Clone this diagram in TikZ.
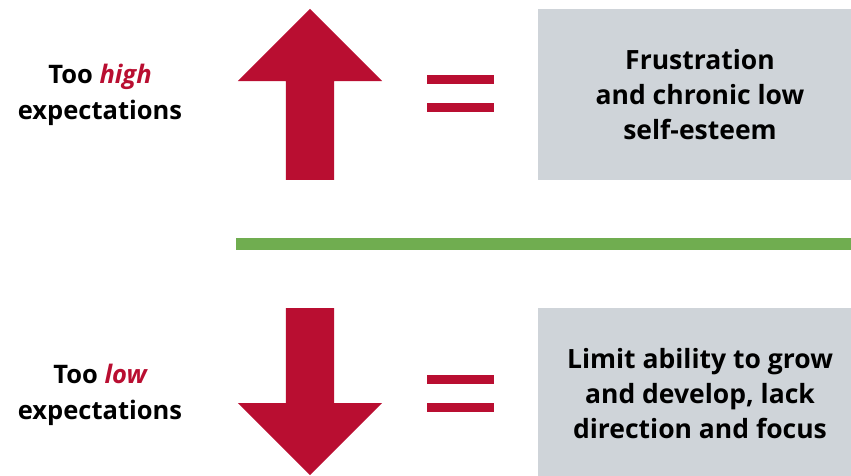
\documentclass[tikz,border=0pt]{standalone}
\usepackage{fontspec}
\setmainfont{Open Sans}
\usetikzlibrary{positioning,shapes.arrows}
\definecolor{arrowred}{HTML}{B90E31}
\definecolor{boxgray}{HTML}{CFD4D9}
\definecolor{linegreen}{HTML}{70AD50}

\tikzset{
    bigarrow/.style={
        single arrow,
        fill=arrowred,
        inner sep=24pt,
        minimum height=171pt,
        single arrow head extend=48pt,
        single arrow head indent=0pt,
        anchor=tail
    },
    eqbar/.style={
        rectangle,
        fill=arrowred,
        inner sep=0pt,
        minimum width=67pt,
        minimum height=9pt
    },
    resultbox/.style={
        rectangle,
        fill=boxgray,
        inner sep=0pt,
        minimum width=324pt,
        align=center,
        font=\fontsize{26.5}{35}\selectfont\bfseries
    },
    sidelabel/.style={
        align=center,
        font=\fontsize{25.5}{36}\selectfont\bfseries
    }
}

\begin{document}
\begin{tikzpicture}[x=1pt, y=-1pt]
    \clip (0,0) rectangle (851,475);

    %top row
    \node (high_label) [sidelabel] at (100,95)
    {
        Too \textcolor{arrowred}{\itshape high}\\expectations
    };
    \node (up_arrow) [bigarrow, shape border rotate=90] at (310,180) {};
    \node (high_eq_a) [eqbar] at (460.5,79.5) {};
    \node (high_eq_b) [eqbar] at (460.5,107.5) {};
    \node (high_box) [resultbox, minimum height=171pt] at (700,94.5)
    {
        Frustration\\and chronic low\\self-esteem
    };

    %divider
    \coordinate (divider_start) at (236,243.5);
    \coordinate (divider_end) at (851,243.5);
    \draw[linegreen, line width=12pt] (divider_start) -- (divider_end);

    %bottom row
    \node (low_label) [sidelabel] at (100,395)
    {
        Too \textcolor{arrowred}{\itshape low}\\expectations
    };
    \node (down_arrow) [bigarrow, shape border rotate=270, minimum height=167pt] at (310,308) {};
    \node (low_eq_a) [eqbar] at (460.5,379.5) {};
    \node (low_eq_b) [eqbar] at (460.5,407.5) {};
    \node (low_box) [resultbox, minimum height=171pt] at (700,393.5)
    {
        Limit ability to grow\\and develop, lack\\direction and focus
    };
\end{tikzpicture}
\end{document}
